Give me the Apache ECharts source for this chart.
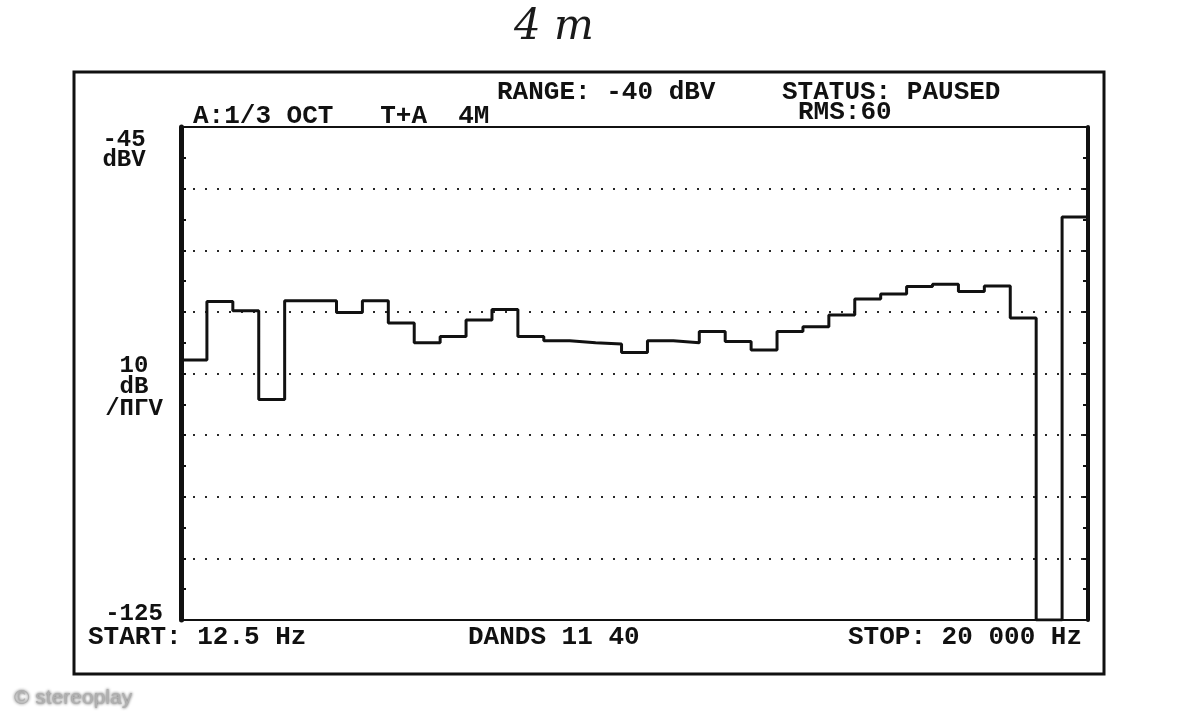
<!DOCTYPE html>
<html><head><meta charset="utf-8">
<script src="https://cdn.jsdelivr.net/npm/echarts@6/dist/echarts.min.js"></script>
<style>html,body{margin:0;padding:0;background:#fff}#c{width:1199px;height:720px}</style>
</head><body><div id="c"></div>
<script>
// 1/3-octave bands, 12.5 Hz .. 20 kHz
const BAND_LABELS = ['12.5','16','20','25','31.5','40','50','63','80','100','125','160','200','250','315','400','500','630','800','1k','1.25k','1.6k','2k','2.5k','3.15k','4k','5k','6.3k','8k','10k','12.5k','16k','20k'];
const BAND_LEVELS = [-82.8,-73.3,-74.8,-89.2,-73.2,-73.2,-75.1,-73.2,-76.8,-80.0,-79.0,-76.3,-74.6,-79.0,-79.7,-80.0,-80.2,-81.6,-79.7,-80.0,-78.2,-79.8,-81.2,-78.2,-77.4,-75.5,-72.9,-72.1,-70.9,-70.5,-71.7,-70.8,-76.0];
const EMPTY_LEVEL = -125;   // empty slot after the bands
const SUM_LEVEL = -59.6;    // overall (sum) bar
const Y_MIN = -125, Y_MAX = -45;
const GRID_LEVELS = [-55,-65,-75,-85,-95,-105,-115];

const MONO = '"Liberation Mono", "DejaVu Sans Mono", monospace';
const INK = '#111';

const slotLevels = BAND_LEVELS.concat([EMPTY_LEVEL, SUM_LEVEL]);
const stepData = slotLevels.map((v, i) => [i, v]);
stepData.push([slotLevels.length, SUM_LEVEL]);
stepData.push([slotLevels.length, Y_MIN]);

function txt(x, y, s, align, size) {
  return { type: 'text', x: x, y: y, silent: true,
    style: { text: s, fill: INK, font: 'bold ' + (size || 26) + 'px ' + MONO, align: align || 'left', verticalAlign: 'middle' } };
}

const chart = echarts.init(document.getElementById('c'));
chart.setOption({
  animation: false,
  backgroundColor: '#fff',
  grid: { left: 181, right: 111, top: 127, bottom: 100, show: true, borderColor: INK, borderWidth: 2 },
  xAxis: { type: 'value', min: 0, max: slotLevels.length, axisLine: { show: false }, axisTick: { show: false },
           axisLabel: { show: false }, splitLine: { show: false } },
  yAxis: [
    { type: 'value', min: Y_MIN, max: Y_MAX, interval: 5, position: 'left',
      axisLine: { show: true, lineStyle: { color: INK, width: 5 } },
      axisTick: { show: true, inside: true, length: 5, lineStyle: { color: INK, width: 2 } },
      axisLabel: { show: false }, splitLine: { show: false } },
    { type: 'value', min: Y_MIN, max: Y_MAX, interval: 5, position: 'right',
      axisLine: { show: true, lineStyle: { color: INK, width: 4 } },
      axisTick: { show: true, inside: true, length: 5, lineStyle: { color: INK, width: 2 } },
      axisLabel: { show: false }, splitLine: { show: false } }
  ],
  series: [
    { type: 'line', data: stepData, step: 'end', symbol: 'none', silent: true,
      lineStyle: { color: INK, width: 3 },
      markLine: { silent: true, symbol: 'none', label: { show: false },
        lineStyle: { color: INK, width: 2, type: [2, 10], opacity: 0.9 },
        data: GRID_LEVELS.map(v => ({ yAxis: v })) } }
  ],
  graphic: [
    { type: 'rect', silent: true, shape: { x: 74, y: 72, width: 1030, height: 602 },
      style: { fill: 'none', stroke: INK, lineWidth: 3 } },
    txt(497, 92, 'RANGE: -40 dBV'),
    txt(782, 92, 'STATUS: PAUSED'),
    txt(193, 116, 'A:1/3 OCT   T+A  4M'),
    txt(798, 112, 'RMS:60'),
    txt(124, 140, '-45', 'center', 24),
    txt(124, 160, 'dBV', 'center', 24),
    txt(134, 366, '10', 'center', 24),
    txt(134, 387, 'dB', 'center', 24),
    txt(134, 409, '/ΠΓV', 'center', 24),
    txt(134, 614, '-125', 'center', 24),
    txt(88, 637, 'START: 12.5 Hz'),
    txt(468, 637, 'DANDS 11 40'),
    txt(848, 637, 'STOP: 20 000 Hz'),
    { type: 'text', x: 514, y: 28, silent: true,
      style: { text: '4 m', fill: '#1a1a1a', font: 'italic 300 42px "DejaVu Serif", serif', verticalAlign: 'middle' } },
    { type: 'text', x: 14, y: 698, silent: true,
      style: { text: '© stereoplay', fill: '#b0b0b0', font: '21px "Liberation Sans", Arial, sans-serif',
               verticalAlign: 'middle', textShadowColor: 'rgba(0,0,0,0.75)', textShadowBlur: 3 } }
  ]
});
</script></body></html>
